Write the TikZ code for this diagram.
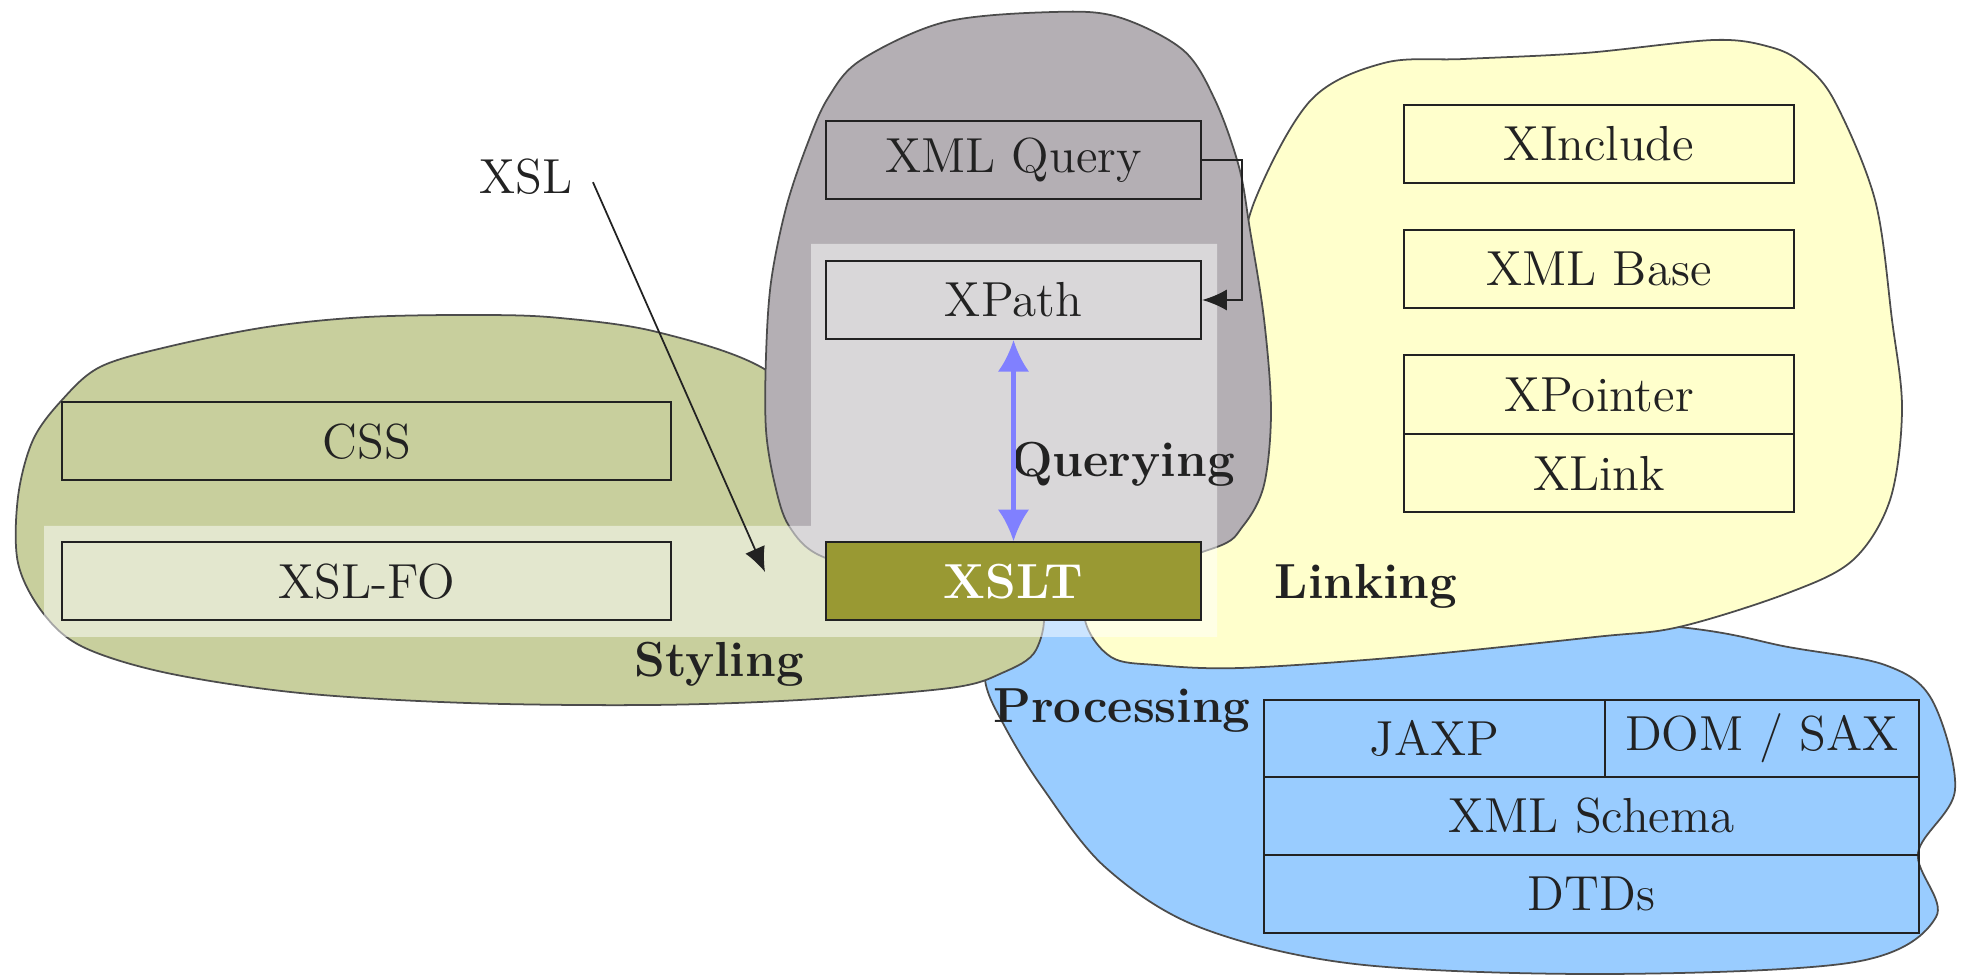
\documentclass[tikz,border=0pt]{standalone}
\usepackage{tikz}
\usetikzlibrary{arrows,arrows.meta,positioning}
\definecolor{stylegreen}{RGB}{200,207,157}
\definecolor{querygray}{RGB}{180,175,180}
\definecolor{linkyellow}{RGB}{255,255,204}
\definecolor{procblue}{RGB}{153,204,255}
\definecolor{xsltolive}{RGB}{153,153,51}
\definecolor{qblue}{RGB}{128,128,255}
\definecolor{ink}{RGB}{34,34,34}

\begin{document}
\begin{tikzpicture}[x=0.01cm,y=-0.01cm,>={Latex[length=7pt,width=6pt]},
    box/.style={draw=ink,line width=0.6pt,inner sep=0pt,text=ink,
      font=\fontsize{14}{16}\selectfont,minimum height=0.78cm},
    area/.style={draw=black!70,line width=0.5pt},
    lbl/.style={text=ink,anchor=base,font=\fontsize{14}{16}\selectfont\bfseries}]
    \useasboundingbox (0,0) rectangle (1961,977);

    % the four areas
    \draw[area,fill=procblue] plot[smooth cycle,tension=0.55] coordinates {
        (1060,565) (1400,605) (1679,627) (1788,647) (1885,665) (1932,700)
        (1955,790) (1918,853) (1936,917) (1855,962) (1605,974) (1355,964)
        (1199,927) (1105,867) (1042,787) (1005,727) (985,680) (990,620)};
    \draw[area,fill=linkyellow] plot[smooth cycle,tension=0.55] coordinates {
        (1255,200) (1311,100) (1384,63) (1464,59) (1585,53) (1714,40)
        (1770,47) (1802,63) (1834,100) (1875,200) (1892,320) (1902,410)
        (1890,500) (1853,560) (1788,593) (1679,627) (1595,637) (1401,657)
        (1240,668) (1156,665) (1111,657) (1085,620) (1090,560) (1180,450)
        (1230,300)};
    \draw[area,fill=stylegreen] plot[smooth cycle,tension=0.55] coordinates {
        (62,400) (100,367) (167,347) (267,327) (367,317) (483,315) (560,318)
        (657,332) (766,370) (850,450) (980,540) (1040,600) (1036,650)
        (1002,673) (950,688) (800,700) (650,705) (467,703) (300,693)
        (167,673) (83,647) (43,613) (18,563) (18,497) (33,440)};
    \draw[area,fill=querygray] plot[smooth cycle,tension=0.55] coordinates {
        (1054,12) (1118,17) (1183,50) (1215,100) (1239,167) (1250,230)
        (1264,319) (1271,411) (1264,485) (1243,526) (1214,548) (1100,575)
        (900,575) (821,556) (789,526) (775,485) (766,430) (766,356)
        (771,282) (786,208) (807,145) (828,98) (861,60) (945,22)};

    % light band behind XSL
    \fill[white,opacity=0.5] (44,526) -- (811,526) -- (811,244) -- (1217,244)
        -- (1217,637) -- (44,637) -- cycle;

    % Styling
    \node[box,minimum width=6.09cm] (css) at (366.75,441.25) {CSS};
    \node[box,minimum width=6.09cm] (xslfo) at (366.75,581.25) {XSL-FO};
    % Querying
    \node[box,minimum width=3.75cm] (xquery) at (1013.5,160) {XML Query};
    \node[box,minimum width=3.75cm] (xpath) at (1013.5,300) {XPath};
    \node[box,minimum width=3.75cm,fill=xsltolive,text=white,
        font=\fontsize{14}{16}\selectfont\bfseries] (xslt) at (1013.5,581.25) {XSLT};
    % Linking
    \node[box,minimum width=3.9cm] (xinclude) at (1599,144) {XInclude};
    \node[box,minimum width=3.9cm] (xbase) at (1599,269) {XML Base};
    \node[box,minimum width=3.9cm,minimum height=0.79cm] (xpointer) at (1599,394.5) {XPointer};
    \node[box,minimum width=3.9cm] (xlink) at (1599,473) {XLink};
    % Processing
    \node[box,minimum width=3.41cm,minimum height=0.77cm] (jaxp) at (1434.5,738.5) {JAXP};
    \node[box,minimum width=3.14cm,minimum height=0.77cm] (domsax) at (1762,738.5) {DOM / SAX};
    \node[box,minimum width=6.55cm] (schema) at (1591.5,816) {XML Schema};
    \node[box,minimum width=6.55cm] (dtds) at (1591.5,894) {DTDs};

    \node[lbl] (querying) at (1123,477) {Querying};
    \node[lbl] (linking) at (1366,599) {Linking};
    \node[lbl] (styling) at (719,677) {Styling};
    \node[lbl] (processing) at (1122,723) {Processing};
    \node[anchor=base,text=ink,font=\fontsize{14}{16}\selectfont] (xsl) at (526,194) {XSL};
    \coordinate (xslend) at (765,572);

    \draw[->,ink,line width=0.5pt] ([shift={(8,5)}]xsl.east) -- (xslend);
    \draw[->,ink,line width=0.6pt] (xquery.east) -- ++(40,0) |- (xpath.east);
    \draw[{Latex[length=9pt,width=9pt]}-{Latex[length=9pt,width=9pt]},qblue,
        line width=1.2pt] (xpath.south) -- (xslt.north);
\end{tikzpicture}
\end{document}
